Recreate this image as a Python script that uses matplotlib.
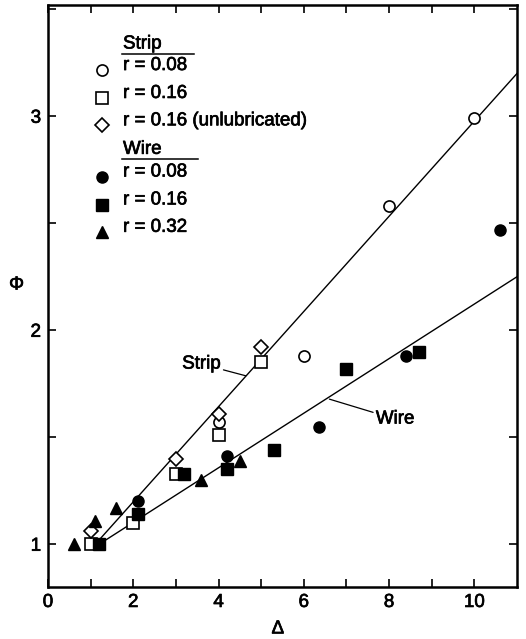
import numpy as np
import matplotlib
matplotlib.use("Agg")
import matplotlib.pyplot as plt
import matplotlib.patheffects as pe

plt.rcParams['font.family'] = ['Liberation Sans', 'DejaVu Sans']

# strip, open symbols
strip_08_x = [4.0, 6.0, 8.0, 10.0]
strip_08_y = [1.57, 1.88, 2.58, 2.99]
strip_16_x = [1.0, 2.0, 3.0, 4.0, 5.0]
strip_16_y = [1.00, 1.10, 1.33, 1.51, 1.85]
strip_unl_x = [1.0, 3.0, 4.0, 5.0]
strip_unl_y = [1.06, 1.40, 1.61, 1.92]

# wire, filled symbols
wire_08_x = [2.1, 4.2, 6.35, 8.4, 10.6]
wire_08_y = [1.20, 1.41, 1.55, 1.88, 2.47]
wire_16_x = [1.2, 2.1, 3.2, 4.2, 5.3, 7.0, 8.7]
wire_16_y = [1.00, 1.14, 1.33, 1.35, 1.44, 1.82, 1.90]
wire_32_x = [0.6, 1.1, 1.6, 3.6, 4.5]
wire_32_y = [1.00, 1.11, 1.17, 1.30, 1.39]

# fitted lines
strip_fit_x = [1.2, 11.0]
strip_fit_y = [1.02, 3.20]
wire_fit_x = [1.2, 11.0]
wire_fit_y = [1.00, 2.25]

FS = 13.5
# thicken glyphs a little, like the printed original
heavy = [pe.withStroke(linewidth=0.5, foreground='black')]

fig = plt.figure(figsize=(5.26, 6.39), dpi=100)
ax = fig.add_axes([48/526, 52/639, 469/526, 582/639])

ax.plot(strip_fit_x, strip_fit_y, color='black', lw=1.0, zorder=1)
ax.plot(wire_fit_x, wire_fit_y, color='black', lw=1.0, zorder=1)

ms = 8
open_kw = dict(ls='none', mfc='white', mec='black', mew=1.2, zorder=3)
fill_kw = dict(ls='none', color='black', zorder=3)
series = [
    (strip_08_x, strip_08_y, 'o', open_kw),
    (strip_16_x, strip_16_y, 's', open_kw),
    (strip_unl_x, strip_unl_y, 'D', open_kw),
    (wire_08_x, wire_08_y, 'o', fill_kw),
    (wire_16_x, wire_16_y, 's', fill_kw),
    (wire_32_x, wire_32_y, '^', fill_kw),
]
for x, y, m, kw in series:
    size = ms - 1 if m == 'D' else ms
    ax.plot(x, y, marker=m, ms=size, **kw)

# line labels with leaders
ax.annotate('Strip', xy=(4.64, 1.787), xytext=(4.05, 1.842), fontsize=FS,
            ha='right', va='center', path_effects=heavy,
            arrowprops=dict(arrowstyle='-', color='black', lw=0.9, shrinkA=0, shrinkB=0))
ax.annotate('Wire', xy=(6.6, 1.678), xytext=(7.69, 1.585), fontsize=FS,
            ha='left', va='center', path_effects=heavy,
            arrowprops=dict(arrowstyle='-', color='black', lw=0.9, shrinkA=0, shrinkB=0))

# hand made legend
tr = ax.transAxes
mx, tx = 0.115, 0.160
rows = [
    (0.892, 'o', open_kw, 'r = 0.08'),
    (0.844, 's', open_kw, 'r = 0.16'),
    (0.797, 'D', open_kw, 'r = 0.16 (unlubricated)'),
    (0.709, 'o', fill_kw, 'r = 0.08'),
    (0.661, 's', fill_kw, 'r = 0.16'),
    (0.614, '^', fill_kw, 'r = 0.32'),
]
for fy, m, kw, label in rows:
    size = ms - 1 if m == 'D' else ms
    ax.plot([mx], [fy - 0.004], marker=m, ms=size, transform=tr, clip_on=False, **kw)
    ax.text(tx, fy + 0.004, label, transform=tr, fontsize=FS, va='center', ha='left',
            path_effects=heavy)
for fy, head, x1 in [(0.933, 'Strip', 0.312), (0.752, 'Wire', 0.320)]:
    ax.text(tx, fy, head, transform=tr, fontsize=FS, va='center', ha='left',
            path_effects=heavy)
    ax.plot([tx - 0.002, x1], [fy - 0.017, fy - 0.017], color='black', lw=1.1, transform=tr)

ax.set_xlim(0, 11.0)
ax.set_ylim(0.8, 3.52)
ax.set_xticks([0, 2, 4, 6, 8, 10])
ax.set_xticks([1, 3, 5, 7, 9], minor=True)
ax.set_yticks([1, 2, 3])
ax.set_yticks([1.5, 2.5, 3.5], minor=True)
ax.tick_params(which='both', direction='in', top=True, right=True,
               length=6, width=1.2, labelsize=FS, pad=5)
for lab in ax.get_xticklabels() + ax.get_yticklabels():
    lab.set_path_effects(heavy)
for s in ax.spines.values():
    s.set_linewidth(1.8)

ax.set_xlabel('Δ', fontsize=FS, va='center', path_effects=heavy)
ax.xaxis.set_label_coords(0.49, -0.072)
ax.set_ylabel('Φ', fontsize=FS, rotation=0, va='center', ha='center', path_effects=heavy)
ax.yaxis.set_label_coords(-0.067, 0.519)

fig.savefig('out.png', dpi=100)
